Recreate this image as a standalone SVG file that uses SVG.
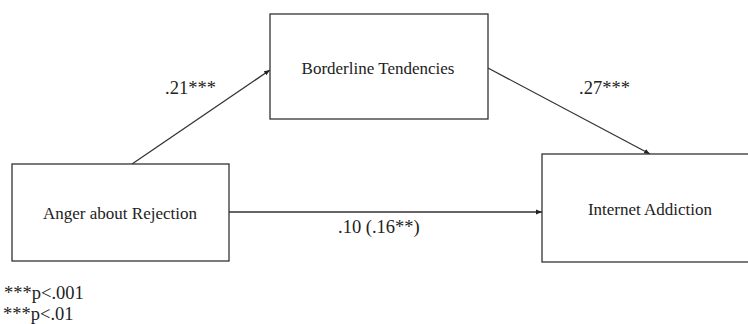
<svg xmlns="http://www.w3.org/2000/svg" width="748" height="324" viewBox="0 0 748 324">
<style>
.box{fill:#fff;stroke:#333;stroke-width:1.3}
.lbl{font-family:'Liberation Serif',Tinos,'Times New Roman',Times,'Noto Serif','DejaVu Serif',serif;font-size:17px;fill:#222;text-anchor:middle}
.num{font-family:'Liberation Serif',Tinos,'Times New Roman',Times,'Noto Serif','DejaVu Serif',serif;font-size:18.5px;fill:#222}
.edge{stroke:#333;stroke-width:1.3;fill:none;marker-end:url(#ah)}
</style>
<defs>
<marker id="ah" viewBox="0 0 10 10" refX="10" refY="5" markerWidth="6" markerHeight="6" markerUnits="userSpaceOnUse" orient="auto">
<path d="M0,1 L10,5 L0,9 z" fill="#222"/>
</marker>
</defs>
<rect width="748" height="324" fill="#fff"/>
<g id="connectors">
<line class="edge" x1="132" y1="164" x2="270" y2="70"/>
<line class="edge" x1="488" y1="68" x2="650" y2="154"/>
<line class="edge" x1="229" y1="212" x2="542" y2="212"/>
</g>
<g id="node-anger">
<rect class="box" x="12" y="164" width="217" height="97"/>
<text class="lbl" x="120" y="219">Anger about Rejection</text>
</g>
<g id="node-borderline">
<rect class="box" x="270" y="14" width="218" height="105"/>
<text class="lbl" x="378" y="74">Borderline Tendencies</text>
</g>
<g id="node-internet">
<rect class="box" x="542" y="154" width="212" height="108"/>
<text class="lbl" x="650" y="215">Internet Addiction</text>
</g>
<g id="labels">
<text class="num" x="165" y="94">.21***</text>
<text class="num" x="579" y="94">.27***</text>
<text class="num" x="338" y="233">.10 (.16**)</text>
<text class="num" x="4" y="299">***p&lt;.001</text>
<text class="num" x="3" y="320">***p&lt;.01</text>
</g>
</svg>
